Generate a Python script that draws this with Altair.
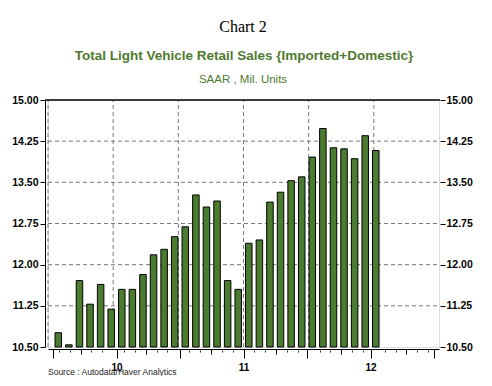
import altair as alt
import pandas as pd

# ---------------- data ----------------
MONTHS = [
    "2010-01", "2010-02", "2010-03", "2010-04", "2010-05", "2010-06",
    "2010-07", "2010-08", "2010-09", "2010-10", "2010-11", "2010-12",
    "2011-01", "2011-02", "2011-03", "2011-04", "2011-05", "2011-06",
    "2011-07", "2011-08", "2011-09", "2011-10", "2011-11", "2011-12",
    "2012-01", "2012-02", "2012-03", "2012-04", "2012-05", "2012-06",
    "2012-07",
]
SALES = [
    10.76, 10.54, 11.71, 11.28, 11.64, 11.19,
    11.55, 11.55, 11.82, 12.18, 12.28, 12.51,
    12.69, 13.27, 13.05, 13.16, 11.71, 11.55,
    12.39, 12.45, 13.14, 13.32, 13.53, 13.60,
    13.96, 14.48, 14.13, 14.11, 13.93, 14.35,
    14.08,
]
Y_TICKS = [10.50, 11.25, 12.00, 12.75, 13.50, 14.25, 15.00]
H_GRID = [11.25, 12.00, 12.75, 13.50, 14.25]
HALF_YEAR_TICKS = [0, 6, 12, 18, 24, 30, 36]      # months since Jan 2010
V_GRID = [0, 6, 12, 18, 24, 30]
QUARTER_TICKS = [3, 9, 15, 21, 27, 33]
MONTH_TICKS = [m for m in range(37) if m % 3 != 0]
YEAR_LABEL_POS = [6, 18, 30]
YEAR_LABELS = ["10", "11", "12"]

TITLE = "Chart 2"
SUBTITLE = "Total Light Vehicle Retail Sales {Imported+Domestic}"
UNITS = "SAAR , Mil. Units"
SOURCE = "Source :  Autodata/Haver Analytics"

Y_MIN, Y_MAX = 10.5, 15.0
X_MIN, X_MAX = 0, 36

# ---------------- tables ----------------
def month_index(s):
    y, m = s.split("-")
    return (int(y) - 2010) * 12 + int(m) - 1

bars = pd.DataFrame({
    "month": MONTHS,
    "t": [month_index(m) + 0.5 for m in MONTHS],
    "value": SALES,
    "base": [Y_MIN] * len(SALES),
})
hgrid = pd.DataFrame({"v": H_GRID, "x0": [X_MIN] * len(H_GRID), "x1": [X_MAX] * len(H_GRID)})
vgrid = pd.DataFrame({"t": V_GRID, "y0": [Y_MIN] * len(V_GRID), "y1": [Y_MAX] * len(V_GRID)})

W, H = 391, 247
GREEN = "#4b7b2e"
LABEL_FONT = "Liberation Sans"

def xs():
    return alt.Scale(domain=[X_MIN, X_MAX], nice=False, zero=False)

def ys():
    return alt.Scale(domain=[Y_MIN, Y_MAX], nice=False, zero=False)

label_expr = " : ".join(
    f"datum.value == {p} ? '{l}'" for p, l in zip(YEAR_LABEL_POS, YEAR_LABELS)
) + " : ''"

# ---------------- layers ----------------
hgrid_layer = alt.Chart(hgrid).mark_rule(
    strokeDash=[4, 3], color="#7a7a7a", strokeWidth=1
).encode(
    y=alt.Y("v:Q", scale=ys(), axis=None),
    x=alt.X("x0:Q", scale=xs(), axis=None),
    x2="x1:Q",
)

vgrid_layer = alt.Chart(vgrid).mark_rule(
    strokeDash=[4, 3], color="#7a7a7a", strokeWidth=1
).encode(
    x=alt.X("t:Q", scale=xs(), axis=None),
    y=alt.Y("y0:Q", scale=ys(), axis=None),
    y2="y1:Q",
)

bar_layer = alt.Chart(bars).mark_bar(
    size=6.5, color=GREEN, stroke="black", strokeWidth=1
).encode(
    x=alt.X("t:Q", scale=xs(), title=None, axis=alt.Axis(
        orient="bottom", values=HALF_YEAR_TICKS, offset=2, tickSize=9,
        tickColor="black", domainColor="black", grid=False,
        labelExpr=label_expr, labelFont=LABEL_FONT, labelFontSize=10,
        labelFontWeight="bold", labelColor="black", labelPadding=4,
        labelFlush=False, labelOverlap=False,
    )),
    y=alt.Y("value:Q", scale=ys(), title=None, axis=alt.Axis(
        orient="left", values=Y_TICKS, format=".2f", offset=3, tickSize=5,
        tickColor="black", domainColor="black", grid=False,
        labelFont=LABEL_FONT, labelFontSize=10.5, labelFontWeight="bold",
        labelColor="black", labelPadding=2, labelFlush=False, labelOverlap=False,
    )),
    y2="base:Q",
)

quarter_layer = alt.Chart(bars).mark_point(opacity=0).encode(
    x=alt.X("t:Q", scale=xs(), title=None, axis=alt.Axis(
        orient="bottom", values=QUARTER_TICKS, offset=2, tickSize=5,
        tickColor="black", domain=False, labels=False, grid=False,
    )),
    y=alt.Y("value:Q", scale=ys(), axis=None),
)

month_layer = alt.Chart(bars).mark_point(opacity=0).encode(
    x=alt.X("t:Q", scale=xs(), title=None, axis=alt.Axis(
        orient="bottom", values=MONTH_TICKS, offset=3, tickSize=2,
        tickColor="#333333", domain=False, labels=False, grid=False,
    )),
    y=alt.Y("value:Q", scale=ys(), axis=None),
)

right_layer = alt.Chart(bars).mark_point(opacity=0).encode(
    x=alt.X("t:Q", scale=xs(), axis=None),
    y=alt.Y("value:Q", scale=ys(), title=None, axis=alt.Axis(
        orient="right", values=Y_TICKS, format=".2f", offset=1, tickSize=5,
        tickColor="black", domain=False, grid=False,
        labelFont=LABEL_FONT, labelFontSize=10.5, labelFontWeight="bold",
        labelColor="black", labelPadding=1, labelFlush=False, labelOverlap=False,
    )),
)

frame_top = alt.Chart(pd.DataFrame({"k": [0]})).mark_rule(
    color="black", strokeWidth=1.5
).encode(x=alt.value(-3), x2=alt.value(W + 1), y=alt.value(0))

def text_layer(txt, x, y, **kw):
    return alt.Chart(pd.DataFrame({"text": [txt]})).mark_text(**kw).encode(
        text="text:N", x=alt.value(x), y=alt.value(y)
    )

title_layer = text_layer(TITLE, 195, -68, font="Liberation Serif", fontSize=16,
                         color="black", align="center", baseline="alphabetic")
sub_layer = text_layer(SUBTITLE, 196, -40, font=LABEL_FONT, fontSize=13.5,
                       fontWeight="bold", color="#4f7a30", align="center",
                       baseline="alphabetic")
unit_layer = text_layer(UNITS, 195, -17, font=LABEL_FONT, fontSize=11.5,
                        color="#4f7a30", align="center", baseline="alphabetic")
source_layer = text_layer(SOURCE, 0, 275, font=LABEL_FONT, fontSize=8.5,
                          color="#222222", align="left", baseline="alphabetic")

chart = alt.layer(
    hgrid_layer, vgrid_layer, bar_layer, quarter_layer, month_layer,
    right_layer, frame_top, title_layer, sub_layer, unit_layer, source_layer,
).resolve_scale(
    x="independent", y="independent"
).properties(
    width=W, height=H,
    autosize=alt.AutoSizeParams(type="none"),
    padding={"left": 40, "top": 92, "right": 45, "bottom": 29},
).configure_view(
    stroke=None
).configure(
    background="white"
)

chart.save("out.html", embed_options={"renderer": "svg", "actions": False})
